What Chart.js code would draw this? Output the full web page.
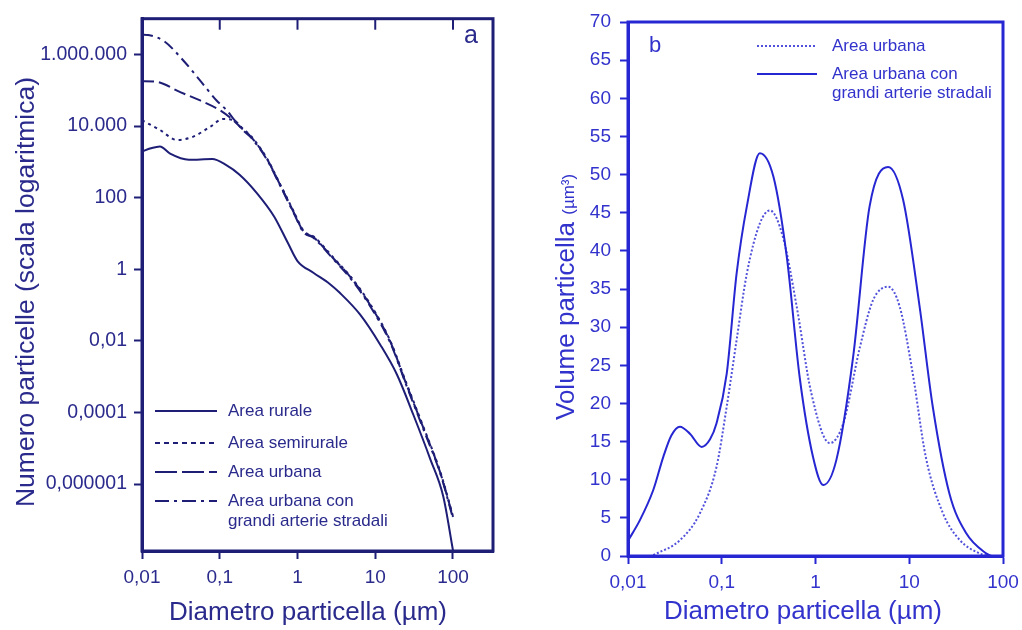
<!DOCTYPE html>
<html><head><meta charset="utf-8">
<script src="https://cdn.jsdelivr.net/npm/chart.js@4.4.1/dist/chart.umd.min.js"></script>
<style>
html,body{margin:0;padding:0;background:#fff;width:1022px;height:630px;overflow:hidden}
canvas{position:absolute;top:0}
#c1{left:0}
#c2{left:520px}
</style></head><body>
<canvas id="c1" width="520" height="630"></canvas>
<canvas id="c2" width="502" height="630"></canvas>
<script>
// ---------- Panel a: number of particles (log scale) ----------
const aSeriesNames = ['Area rurale', 'Area semirurale', 'Area urbana', 'Area urbana con|grandi arterie stradali'];
const ruralD = [0.01, 0.013, 0.017, 0.023, 0.04, 0.08, 0.12, 0.18, 0.3, 0.5, 0.75, 1.0, 1.6, 2.6, 3.5, 6.4, 11.6, 19, 31, 51, 75, 100];
const ruralN = [1950, 2400, 2700, 1700, 1150, 1200, 830, 440, 135, 30, 5.5, 1.7, 0.8, 0.39, 0.22, 0.054, 0.0078, 0.00115, 0.000085, 5e-6, 4.5e-7, 1.4e-8];
const semiD = [0.01, 0.017, 0.028, 0.045, 0.075, 0.11, 0.15, 0.2, 0.25, 0.4, 0.6, 0.9, 1.2, 1.6, 2.9, 4.8, 8.6, 15.6, 25, 41, 69, 100];
const semiN = [14500, 7800, 4100, 5000, 9500, 15800, 14800, 8300, 5400, 1300, 234, 40, 11.7, 8.3, 2.1, 0.63, 0.107, 0.01, 6.8e-4, 4.3e-5, 2.1e-6, 1.26e-7];
const urbanD = [0.01, 0.015, 0.031, 0.056, 0.101, 0.148, 0.2, 0.25, 0.4, 0.6, 0.9, 1.2, 1.6, 2.9, 4.8, 8.6, 15.6, 25, 41, 69, 100];
const urbanN = [178000, 174000, 89000, 52000, 27500, 14800, 7900, 5100, 1260, 224, 38, 11.2, 7.9, 2.0, 0.6, 0.1, 0.0095, 6.3e-4, 4.0e-5, 2.0e-6, 1.2e-7];
const roadD = [0.01, 0.012, 0.019, 0.034, 0.056, 0.091, 0.123, 0.15, 0.2, 0.25, 0.4, 0.6, 0.9, 1.2, 1.6, 2.9, 4.8, 8.6, 15.6, 25, 41, 69, 100];
const roadN = [3.6e6, 3.5e6, 2.4e6, 6.8e5, 1.86e5, 5.2e4, 2.75e4, 1.6e4, 7600, 4900, 1200, 214, 36, 10.7, 7.6, 1.9, 0.56, 0.093, 0.0089, 5.9e-4, 3.7e-5, 1.9e-6, 1.1e-7];
const aXTicks = [0.01, 0.1, 1, 10, 100];
const aXLabels = ['0,01', '0,1', '1', '10', '100'];
const aYTicks = [1e-6, 1e-4, 1e-2, 1, 1e2, 1e4, 1e6];
const aYLabels = ['0,000001', '0,0001', '0,01', '1', '100', '10.000', '1.000.000'];
const aXTitle = 'Diametro particella (µm)';
const aYTitle = 'Numero particelle (scala logaritmica)';

// ---------- Panel b: particle volume ----------
const bSeriesNames = ['Area urbana', 'Area urbana con|grandi arterie stradali'];
const bUrbD = [0.0186, 0.036, 0.0585, 0.088, 0.113, 0.144, 0.185, 0.255, 0.327, 0.45, 0.63, 0.9, 1.42, 1.98, 2.98, 4.1, 5.95, 7.9, 10.9, 15.0, 22.9, 34.5, 56, 70];
const bUrbV = [0.1, 2.1, 5.6, 11.7, 19.6, 28.3, 37.0, 43.6, 45.3, 41.8, 32.7, 21.4, 14.8, 17.4, 27.4, 33.5, 35.3, 32.7, 23.9, 13.0, 5.6, 2.1, 0.35, 0];
const bRoadD = [0.01, 0.0134, 0.0186, 0.0238, 0.029, 0.0358, 0.046, 0.061, 0.075, 0.088, 0.113, 0.144, 0.185, 0.255, 0.356, 0.494, 0.68, 0.94, 1.21, 1.67, 2.52, 3.77, 5.95, 8.6, 12.9, 17.8, 26.8, 40.4, 66, 75];
const bRoadV = [2.0, 4.7, 8.65, 13.0, 15.8, 16.95, 16.0, 14.3, 15.3, 17.4, 23.9, 37.0, 45.8, 52.8, 49.7, 39.2, 23.3, 13.0, 9.3, 12.6, 26.1, 45.8, 51.0, 46.7, 32.7, 19.6, 8.2, 3.0, 0.35, 0];
const bXTicks = [0.01, 0.1, 1, 10, 100];
const bXLabels = ['0,01', '0,1', '1', '10', '100'];
const bYTicks = [0, 5, 10, 15, 20, 25, 30, 35, 40, 45, 50, 55, 60, 65, 70];
const bXTitle = 'Diametro particella (µm)';
const bYTitle = 'Volume particella';
const bYUnit = '(µm³)';

const FONT = '"Liberation Sans", Arial, Helvetica, sans-serif';
const NAVY = '#1e1e76';
const NAVY_T = '#2a2a8c';
const BLUE = '#2626d2';
const BLUE_T = '#3232cc';

function pts(xs, ys) { return xs.map((x, i) => ({ x: x, y: ys[i] })); }

function lineDs(label, d, v, color, dash, width) {
  return { label: label, data: pts(d, v), borderColor: color, borderWidth: width, borderDash: dash,
    pointRadius: 0, fill: false, cubicInterpolationMode: 'monotone', borderCapStyle: 'butt' };
}

function decor(o) {
  return {
    id: 'decor' + o.name,
    afterDraw(chart) {
      const ctx = chart.ctx, a = chart.chartArea;
      ctx.save();
      ctx.setLineDash([]);
      ctx.strokeStyle = o.frame; ctx.lineWidth = 3;
      ctx.strokeRect(a.left, a.top, a.right - a.left, a.bottom - a.top);
      if (o.topTicks) {
        const xs = chart.scales.x;
        ctx.lineWidth = 2;
        xs.ticks.forEach(t => {
          const px = xs.getPixelForValue(t.value);
          if (px > a.left + 3 && px < a.right - 3) {
            ctx.beginPath(); ctx.moveTo(px, a.top); ctx.lineTo(px, a.top + 11); ctx.stroke();
          }
        });
      }
      // legend
      ctx.fillStyle = o.text;
      ctx.font = o.legendFont;
      ctx.textBaseline = 'middle'; ctx.textAlign = 'left';
      o.legend.forEach(item => {
        const ds = chart.data.datasets[item.ds];
        ctx.save();
        ctx.strokeStyle = ds.borderColor; ctx.lineWidth = ds.borderWidth;
        ctx.setLineDash(item.dash || ds.borderDash || []);
        ctx.beginPath(); ctx.moveTo(o.lx0, item.y); ctx.lineTo(o.lx1, item.y); ctx.stroke();
        ctx.restore();
        ds.label.split('|').forEach((ln, k) => ctx.fillText(ln, o.tx, item.y + k * o.lineGap));
      });
      // panel letter
      ctx.font = o.letterFont; ctx.textAlign = 'center';
      ctx.fillText(o.letter, o.letterX, o.letterY);
      // x title
      ctx.fillStyle = o.titleColor;
      ctx.font = o.titleFont; ctx.textAlign = 'center'; ctx.textBaseline = 'alphabetic';
      ctx.fillText(o.xTitle, o.xTitleX, o.xTitleY);
      // y title
      ctx.save();
      ctx.translate(o.yTitleX, o.yTitleY);
      ctx.rotate(-Math.PI / 2);
      ctx.font = o.yTitleFont;
      if (o.yUnit) {
        ctx.textAlign = 'left';
        const main = o.yTitle + ' ';
        ctx.fillText(main, 0, 0);
        const w = ctx.measureText(main).width;
        ctx.font = o.yUnitFont;
        ctx.fillText(o.yUnit, w, 0);
      } else {
        ctx.textAlign = 'center';
        ctx.fillText(o.yTitle, 0, 0);
      }
      ctx.restore();
      ctx.restore();
    }
  };
}

// ---------- Chart a ----------
new Chart(document.getElementById('c1'), {
  type: 'line',
  data: { datasets: [
    lineDs(aSeriesNames[0], ruralD, ruralN, NAVY, [], 2),
    lineDs(aSeriesNames[1], semiD, semiN, NAVY, [3, 4], 2),
    lineDs(aSeriesNames[2], urbanD, urbanN, NAVY, [12, 5], 2),
    lineDs(aSeriesNames[3], roadD, roadN, NAVY, [11, 5, 3, 5], 2)
  ] },
  options: {
    responsive: false, animation: false, devicePixelRatio: 1,
    layout: { padding: { left: 0, top: 14, right: 27, bottom: 0 } },
    plugins: { legend: { display: false }, tooltip: { enabled: false } },
    scales: {
      x: {
        type: 'logarithmic', min: 0.01, max: 327,
        afterBuildTicks: s => { s.ticks = aXTicks.map(v => ({ value: v })); },
        afterFit: s => { s.height = 79; s.paddingLeft = 0; s.paddingRight = 0; },
        ticks: { callback: (v, i) => aXLabels[i], color: NAVY_T, font: { family: FONT, size: 19 }, padding: 7, maxRotation: 0, autoSkip: false },
        grid: { drawOnChartArea: false, drawTicks: true, tickLength: 8, tickWidth: 2, tickColor: NAVY },
        border: { display: true, color: NAVY, width: 3 }
      },
      y: {
        type: 'logarithmic', min: Math.pow(10, -7.87), max: 1e7,
        afterBuildTicks: s => { s.ticks = aYTicks.map(v => ({ value: v })); },
        afterFit: s => { s.width = 142; },
        ticks: { callback: (v, i) => aYLabels[i], color: NAVY_T, font: { family: FONT, size: 19.5 }, padding: 7, autoSkip: false },
        grid: { drawOnChartArea: false, drawTicks: true, tickLength: 8, tickWidth: 2, tickColor: NAVY },
        border: { display: true, color: NAVY, width: 3 }
      }
    }
  },
  plugins: [decor({
    name: 'a', frame: NAVY, text: NAVY_T, titleColor: NAVY_T, topTicks: true,
    legendFont: '17px ' + FONT, lx0: 155, lx1: 217, tx: 228, lineGap: 20,
    legend: [{ ds: 0, y: 411 }, { ds: 1, y: 443, dash: [5, 4] }, { ds: 2, y: 472, dash: [22, 5] }, { ds: 3, y: 501, dash: [14, 5, 3, 5] }],
    letter: 'a', letterFont: '25px ' + FONT, letterX: 471, letterY: 36,
    xTitle: aXTitle, titleFont: '26px ' + FONT, xTitleX: 308, xTitleY: 620,
    yTitle: aYTitle, yTitleFont: '26.5px ' + FONT, yTitleX: 34, yTitleY: 292
  })]
});

// ---------- Chart b ----------
new Chart(document.getElementById('c2'), {
  type: 'line',
  data: { datasets: [
    lineDs(bSeriesNames[0], bUrbD, bUrbV, 'rgba(38,38,210,0.8)', [2, 2], 2),
    lineDs(bSeriesNames[1], bRoadD, bRoadV, BLUE, [], 2)
  ] },
  options: {
    responsive: false, animation: false, devicePixelRatio: 1,
    layout: { padding: { left: 0, top: 22, right: 19, bottom: 0 } },
    plugins: { legend: { display: false }, tooltip: { enabled: false } },
    scales: {
      x: {
        type: 'logarithmic', min: 0.01, max: 100,
        afterBuildTicks: s => { s.ticks = bXTicks.map(v => ({ value: v })); },
        afterFit: s => { s.height = 74; s.paddingLeft = 0; s.paddingRight = 0; },
        ticks: { callback: (v, i) => bXLabels[i], color: BLUE_T, font: { family: FONT, size: 19 }, padding: 7, maxRotation: 0, autoSkip: false },
        grid: { drawOnChartArea: false, drawTicks: true, tickLength: 8, tickWidth: 2, tickColor: BLUE },
        border: { display: true, color: BLUE, width: 3 }
      },
      y: {
        type: 'linear', min: 0, max: 70,
        afterBuildTicks: s => { s.ticks = bYTicks.map(v => ({ value: v })); },
        afterFit: s => { s.width = 108; s.paddingTop = 0; s.paddingBottom = 0; },
        ticks: { callback: (v, i) => String(bYTicks[i]), color: BLUE_T, font: { family: FONT, size: 19 }, padding: 9, autoSkip: false },
        grid: { drawOnChartArea: false, drawTicks: true, tickLength: 8, tickWidth: 2, tickColor: BLUE },
        border: { display: true, color: BLUE, width: 3 }
      }
    }
  },
  plugins: [decor({
    name: 'b', frame: BLUE, text: BLUE_T, titleColor: BLUE_T, topTicks: false,
    legendFont: '17px ' + FONT, lx0: 237, lx1: 297, tx: 312, lineGap: 19,
    legend: [{ ds: 0, y: 46 }, { ds: 1, y: 74 }],
    letter: 'b', letterFont: '22px ' + FONT, letterX: 135, letterY: 46,
    xTitle: bXTitle, titleFont: '26px ' + FONT, xTitleX: 283, xTitleY: 619,
    yTitle: bYTitle, yTitleFont: '26px ' + FONT, yUnit: bYUnit, yUnitFont: '17px ' + FONT, yTitleX: 54, yTitleY: 420
  })]
});
</script>
</body></html>
